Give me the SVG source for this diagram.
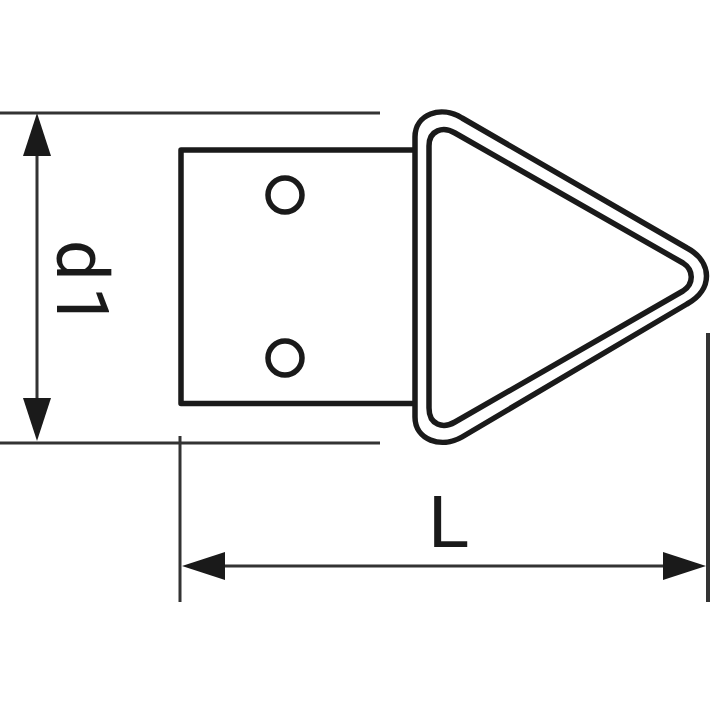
<svg xmlns="http://www.w3.org/2000/svg" width="710" height="710" viewBox="0 0 710 710">
<style>
.body{fill:none;stroke:#1a1a1a;stroke-width:5.5;stroke-linejoin:round}
.dim{fill:none;stroke:#333;stroke-width:3}
.head{fill:#1a1a1a}
text{font-family:"Liberation Sans",Arial,sans-serif;font-size:75px;fill:#1a1a1a}
#label-d1{font-family:Roboto,"Liberation Sans",sans-serif;font-size:72px;letter-spacing:6px}
</style>
<rect width="710" height="710" fill="#fff"/>
<g id="plate">
<path class="body" d="M415 150H181V403.500H415"/>
<circle class="body" cx="285" cy="195" r="17"/>
<circle class="body" cx="285" cy="358" r="17"/>
</g>
<g id="ring">
<path class="body" d="M415 137C415 114 441 105 462 118L687 248C713 262 713 290 687 304L462 437C441 449 415 440 415 417Z"/>
<path class="body" d="M429 146C429 130 443 126 455 133L683 263C694 270 694 284 683 291L455 422C443 429 429 425 429 408Z"/>
</g>
<g id="connectors">
<path class="dim" d="M0 113H380M0 443H380M37 150V405M180 436V602M220 566H668"/>
<path class="dim" style="stroke-width:4" d="M708 333V602"/>
<path class="head" d="M37 113L51 156H23Z"/>
<path class="head" d="M37 441L51 398H23Z"/>
<path class="head" d="M182 566L225 552V580Z"/>
<path class="head" d="M706 566L663 552V580Z"/>
</g>
<text id="label-d1" transform="translate(57 240) rotate(90)">d1</text>
<text id="label-L" x="428" y="547">L</text>
</svg>
